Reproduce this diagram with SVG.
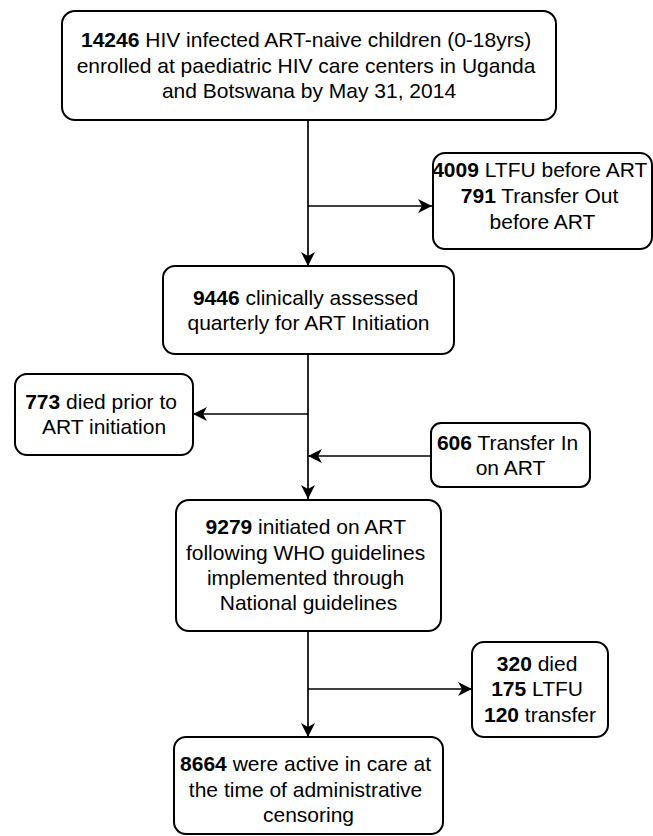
<svg xmlns="http://www.w3.org/2000/svg" width="653" height="836" viewBox="0 0 653 836">
  <defs>
    <marker id="arrow" viewBox="0 0 14 14" refX="14" refY="7" markerWidth="14" markerHeight="14" markerUnits="userSpaceOnUse" orient="auto">
      <path d="M0,0 L14,7 L0,14 L4,7 Z" fill="#000"/>
    </marker>
    <style>
      .box { fill: #fff; stroke: #000; stroke-width: 2; }
      .lbl { font-family: "Liberation Sans", Arial, Helvetica, sans-serif; font-size: 21px; fill: #000; text-anchor: middle; }
      .lbl tspan.n { font-weight: bold; }
      .edge { fill: none; stroke: #000; stroke-width: 1.7; }
    </style>
  </defs>
  <rect width="653" height="836" fill="#fff"/>

  <!-- connectors -->
  <g id="connectors">
    <path class="edge" d="M308,120 L308,266" marker-end="url(#arrow)"/>
    <path class="edge" d="M308,206 L432,206" marker-end="url(#arrow)"/>
    <path class="edge" d="M308,354 L308,499" marker-end="url(#arrow)"/>
    <path class="edge" d="M308,414 L193,414" marker-end="url(#arrow)"/>
    <path class="edge" d="M431,456 L308,456" marker-end="url(#arrow)"/>
    <path class="edge" d="M308,631 L308,737" marker-end="url(#arrow)"/>
    <path class="edge" d="M308,689 L472,689" marker-end="url(#arrow)"/>
  </g>

  <!-- nodes -->
  <g id="enrolled">
    <rect class="box" x="62" y="11" width="494" height="109" rx="13"/>
    <text class="lbl">
      <tspan x="309" y="47"><tspan class="n">14246</tspan> HIV infected ART-naive children (0-18yrs)</tspan>
      <tspan x="309" y="72.5">enrolled at paediatric HIV care centers in Uganda</tspan>
      <tspan x="309" y="98">and Botswana by May 31, 2014</tspan>
    </text>
  </g>

  <g id="ltfu-before-art">
    <rect class="box" x="433" y="153" width="219" height="96" rx="12"/>
    <text class="lbl">
      <tspan x="542.5" y="177"><tspan class="n">4009</tspan> LTFU before ART</tspan>
      <tspan x="542.5" y="203"><tspan class="n">791</tspan> Transfer Out</tspan>
      <tspan x="542.5" y="229">before ART</tspan>
    </text>
  </g>

  <g id="assessed">
    <rect class="box" x="163" y="266" width="291" height="88" rx="12"/>
    <text class="lbl">
      <tspan x="308.5" y="304.5"><tspan class="n">9446</tspan> clinically assessed</tspan>
      <tspan x="308.5" y="330">quarterly for ART Initiation</tspan>
    </text>
  </g>

  <g id="died-before-art">
    <rect class="box" x="15" y="374" width="178" height="81" rx="12"/>
    <text class="lbl">
      <tspan x="104" y="408.5"><tspan class="n">773</tspan> died prior to</tspan>
      <tspan x="104" y="434">ART initiation</tspan>
    </text>
  </g>

  <g id="transfer-in">
    <rect class="box" x="431" y="423" width="159" height="64" rx="10"/>
    <text class="lbl">
      <tspan x="510.5" y="449.5"><tspan class="n">606</tspan> Transfer In</tspan>
      <tspan x="510.5" y="475">on ART</tspan>
    </text>
  </g>

  <g id="initiated">
    <rect class="box" x="176" y="500" width="265" height="131" rx="13"/>
    <text class="lbl">
      <tspan x="308.5" y="534"><tspan class="n">9279</tspan> initiated on ART</tspan>
      <tspan x="308.5" y="559.5">following WHO guidelines</tspan>
      <tspan x="308.5" y="585">implemented through</tspan>
      <tspan x="308.5" y="610">National guidelines</tspan>
    </text>
  </g>

  <g id="outcomes-on-art">
    <rect class="box" x="472" y="642" width="136" height="95" rx="12"/>
    <text class="lbl">
      <tspan x="540" y="670.5"><tspan class="n">320</tspan> died</tspan>
      <tspan x="540" y="696"><tspan class="n">175</tspan> LTFU</tspan>
      <tspan x="540" y="722"><tspan class="n">120</tspan> transfer</tspan>
    </text>
  </g>

  <g id="active-in-care">
    <rect class="box" x="174" y="737" width="269" height="97" rx="12"/>
    <text class="lbl">
      <tspan x="308.5" y="771"><tspan class="n">8664</tspan> were active in care at</tspan>
      <tspan x="308.5" y="796.5">the time of administrative</tspan>
      <tspan x="308.5" y="822">censoring</tspan>
    </text>
  </g>
</svg>
